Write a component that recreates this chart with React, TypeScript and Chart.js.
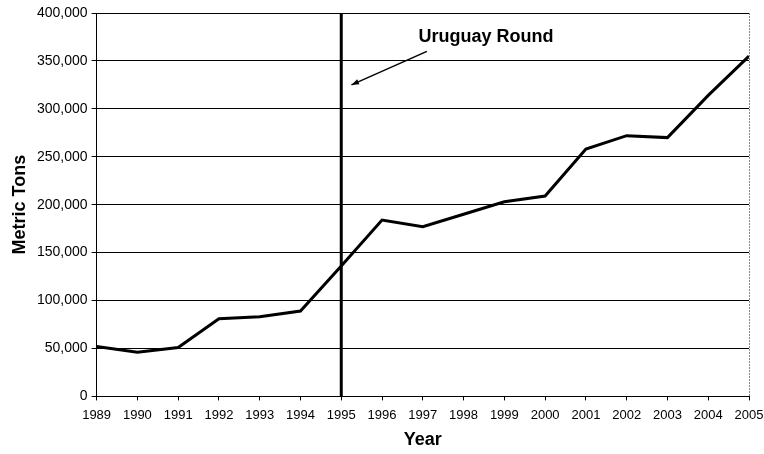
import React, { useEffect, useRef } from "react";
import { Chart, registerables } from "chart.js";

Chart.register(...registerables);

const years = [1989, 1990, 1991, 1992, 1993, 1994, 1995, 1996, 1997, 1998, 1999, 2000, 2001, 2002, 2003, 2004, 2005];
const tons = [52000, 46000, 51000, 81000, 83000, 89000, 136000, 184000, 177000, 190000, 203000, 209000, 258000, 272000, 270000, 314000, 355000];
const markerYear = 1995;
const annotationText = "Uruguay Round";
const annotationTextAt = { x: 1998.55, y: 375000 };
const arrowFrom = { x: 1997.1, y: 360000 };
const arrowTo = { x: 1995.25, y: 325000 };

const FONT = "'Liberation Sans', Arial, sans-serif";

const overlayPlugin = {
  id: "overlay",
  afterDatasetsDraw(chart: any) {
    const { ctx, chartArea, scales } = chart;
    const xs = scales.x;
    const ys = scales.y;
    ctx.save();
    const vx = xs.getPixelForValue(markerYear);
    ctx.strokeStyle = "#000";
    ctx.lineWidth = 3;
    ctx.beginPath();
    ctx.moveTo(vx, chartArea.top);
    ctx.lineTo(vx, chartArea.bottom);
    ctx.stroke();
    ctx.fillStyle = "#000";
    ctx.font = "bold 18px " + FONT;
    ctx.textAlign = "center";
    ctx.textBaseline = "middle";
    ctx.fillText(annotationText, xs.getPixelForValue(annotationTextAt.x), ys.getPixelForValue(annotationTextAt.y));
    const x1 = xs.getPixelForValue(arrowFrom.x);
    const y1 = ys.getPixelForValue(arrowFrom.y);
    const x2 = xs.getPixelForValue(arrowTo.x);
    const y2 = ys.getPixelForValue(arrowTo.y);
    ctx.lineWidth = 1.5;
    ctx.beginPath();
    ctx.moveTo(x1, y1);
    ctx.lineTo(x2, y2);
    ctx.stroke();
    const ang = Math.atan2(y2 - y1, x2 - x1);
    const hl = 8;
    ctx.beginPath();
    ctx.moveTo(x2, y2);
    ctx.lineTo(x2 - hl * Math.cos(ang - 0.35), y2 - hl * Math.sin(ang - 0.35));
    ctx.lineTo(x2 - hl * Math.cos(ang + 0.35), y2 - hl * Math.sin(ang + 0.35));
    ctx.closePath();
    ctx.fill();
    ctx.strokeStyle = "#888";
    ctx.lineWidth = 1;
    ctx.setLineDash([2, 1]);
    ctx.beginPath();
    ctx.moveTo(chartArea.right + 0.5, chartArea.top);
    ctx.lineTo(chartArea.right + 0.5, chartArea.bottom);
    ctx.stroke();
    ctx.restore();
  },
};

export default function App() {
  const ref = useRef<HTMLCanvasElement>(null);
  useEffect(() => {
    document.body.style.margin = "0";
    const chart = new Chart(ref.current!, {
      type: "line",
      data: {
        datasets: [
          {
            data: years.map((y, i) => ({ x: y, y: tons[i] })),
            borderColor: "#000",
            borderWidth: 3,
            pointRadius: 0,
            tension: 0,
          },
        ],
      },
      options: {
        animation: false,
        responsive: false,
        maintainAspectRatio: false,
        layout: { padding: { left: 11, right: 0, top: 13, bottom: 5 } },
        plugins: { legend: { display: false }, tooltip: { enabled: false } },
        scales: {
          x: {
            type: "linear",
            min: 1989,
            max: 2005,
            afterFit: (scale: any) => {
              scale.paddingRight = 15;
            },
            ticks: {
              stepSize: 1,
              color: "#000",
              font: { family: FONT, size: 13 },
              callback: (v: any) => String(v),
              maxRotation: 0,
              autoSkip: false,
              padding: 7,
            },
            grid: { display: true, drawOnChartArea: false, color: "#000", tickLength: 4 },
            border: { color: "#000", width: 1 },
            title: {
              display: true,
              text: "Year",
              color: "#000",
              font: { family: FONT, size: 18, weight: "bold", lineHeight: 1 },
              padding: { top: 1, bottom: 0 },
            },
          },
          y: {
            min: 0,
            max: 400000,
            ticks: {
              stepSize: 50000,
              color: "#000",
              font: { family: FONT, size: 14 },
              callback: (v: any) => Number(v).toLocaleString("en-US"),
              padding: 4,
            },
            grid: { color: "#000", lineWidth: 1, tickLength: 5 },
            border: { color: "#000", width: 1 },
            title: {
              display: true,
              text: "Metric Tons",
              color: "#000",
              font: { family: FONT, size: 18, weight: "bold", lineHeight: 1 },
              padding: { top: 0, bottom: 4 },
            },
          },
        },
      },
      plugins: [overlayPlugin],
    });
    return () => chart.destroy();
  }, []);
  return (
    <div style={{ width: 764, height: 454, background: "#fff" }}>
      <canvas ref={ref} width={764} height={454} style={{ display: "block" }} />
    </div>
  );
}
